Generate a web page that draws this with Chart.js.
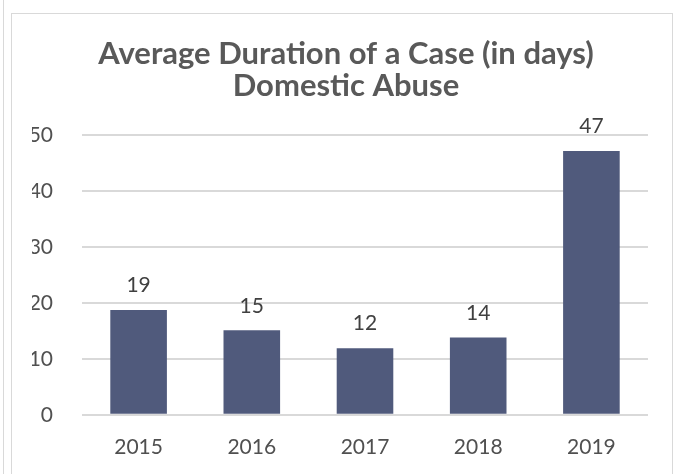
<!DOCTYPE html>
<html>
<head>
<meta charset="utf-8">
<script src="https://cdn.jsdelivr.net/npm/chart.js@4.4.0/dist/chart.umd.min.js"></script>
<style>
  body { margin: 0; background: #fff; }
  #edge { position: absolute; left: 3px; top: 0; width: 0; height: 474px; border-left: 1px solid #d9d9d9; }
  #box { position: absolute; left: 11px; top: 13px; width: 660px; height: 470px; border: 1px solid #d9d9d9; }
  #wrap { position: absolute; left: 0; top: 0; width: 660px; height: 461px; }
</style>
</head>
<body>
<div id="edge"></div>
<div id="box"><div id="wrap"><canvas id="chart"></canvas></div></div>
<script>
const years = ['2015', '2016', '2017', '2018', '2019'];
const avgDays = [18.7, 15.1, 11.9, 13.8, 47.1];
const yTicks = [0, 10, 20, 30, 40, 50];

const FONT = 'Lato, "Open Sans", sans-serif';

const barLabels = {
  id: 'barLabels',
  afterDatasetsDraw(chart) {
    const ctx = chart.ctx;
    const meta = chart.getDatasetMeta(0);
    ctx.save();
    ctx.font = '21px ' + FONT;
    ctx.fillStyle = '#404040';
    ctx.textAlign = 'center';
    ctx.textBaseline = 'bottom';
    meta.data.forEach((bar, i) => {
      ctx.fillText(Math.round(avgDays[i]), bar.x, bar.y - 14);
    });
    ctx.restore();
  }
};

new Chart(document.getElementById('chart'), {
  type: 'bar',
  data: {
    labels: years,
    datasets: [{
      data: avgDays,
      backgroundColor: '#505a7c',
      barPercentage: 0.5,
      categoryPercentage: 1
    }]
  },
  options: {
    responsive: true,
    maintainAspectRatio: false,
    animation: false,
    layout: { padding: { left: 20, right: 12, bottom: 3 } },
    plugins: {
      legend: { display: false },
      tooltip: { enabled: false },
      title: {
        display: true,
        text: ['Average Duration of a Case (in days)', 'Domestic Abuse'],
        color: '#595959',
        font: { family: FONT, size: 31, weight: 'bold', lineHeight: 1.03 },
        padding: { top: 24, bottom: 33 }
      }
    },
    scales: {
      x: {
        grid: { display: false },
        border: { display: false },
        ticks: { color: '#505050', font: { family: FONT, size: 21 }, padding: 12 }
      },
      y: {
        min: 0,
        max: 50,
        afterBuildTicks(axis) { axis.ticks = yTicks.map(v => ({ value: v })); },
        afterFit(axis) { axis.width = 50; },
        grid: { color: '#d9d9d9', lineWidth: 2, drawTicks: false },
        border: { display: false },
        ticks: { color: '#505050', font: { family: FONT, size: 21 }, padding: 29 }
      },
      // empty right axis, only there to leave a gap right of the plot
      yRight: {
        position: 'right',
        grid: { display: false },
        border: { display: false },
        ticks: { display: false },
        afterFit(axis) { axis.width = 12; }
      }
    }
  },
  plugins: [barLabels]
});
</script>
</body>
</html>
